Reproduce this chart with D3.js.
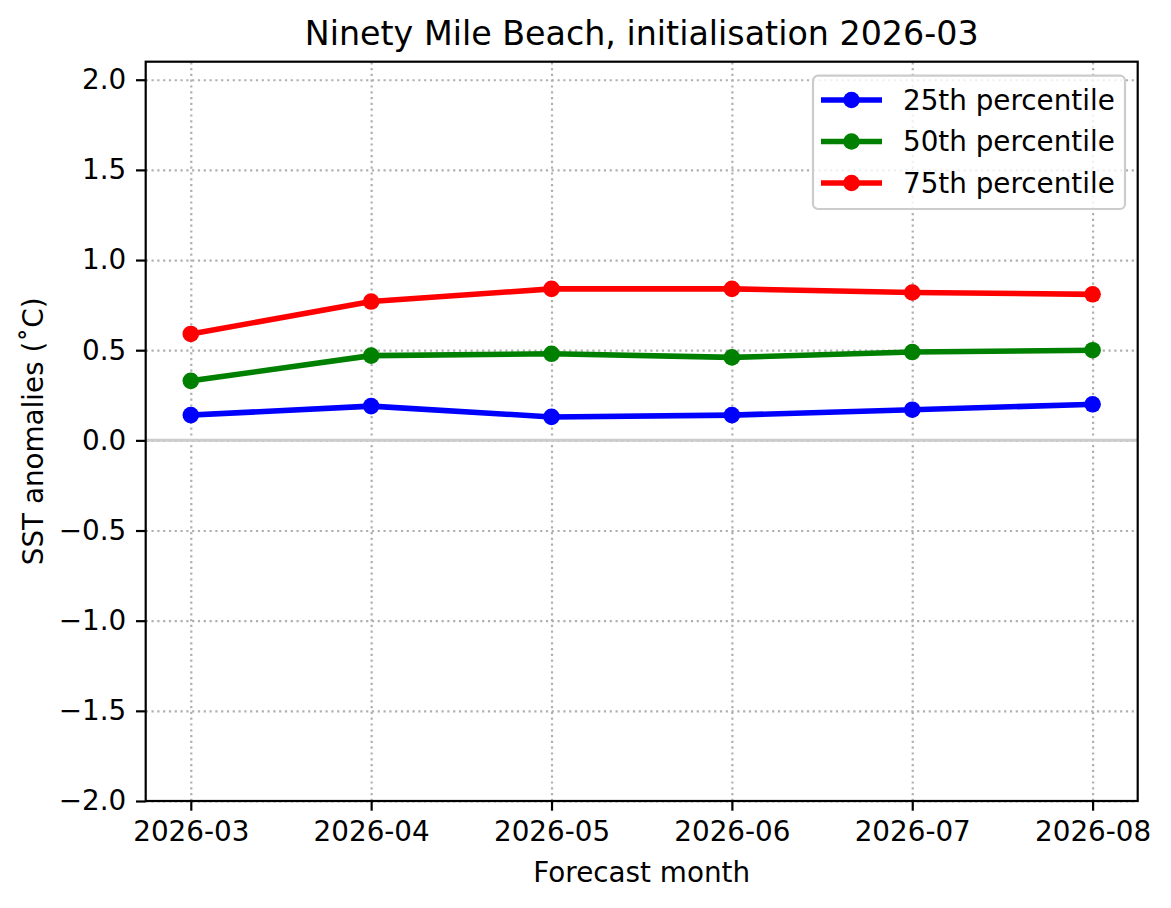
<!DOCTYPE html>
<html>
<head>
    <meta charset="utf-8">
    <title>Ninety Mile Beach SST</title>
    <script src="https://d3js.org/d3.v7.min.js"></script>
    <style>
        body { margin: 0; background: #fff; }
        svg text { font-family: "DejaVu Sans", sans-serif; fill: #000; }
        .grid line { stroke: #b0b0b0; stroke-width: 2.2; stroke-dasharray: 2.2 3.6; }
        .grid .domain { stroke: none; }
        .axis .domain { stroke: none; }
        .axis line { stroke: #000; stroke-width: 2.2; }
    </style>
</head>
<body>
<svg id="chart" width="1171" height="908"></svg>
<script>
    // data
    const months = ["2026-03", "2026-04", "2026-05", "2026-06", "2026-07", "2026-08"];
    const p25 = [0.14, 0.19, 0.13, 0.14, 0.17, 0.20];
    const p50 = [0.33, 0.47, 0.48, 0.46, 0.49, 0.50];
    const p75 = [0.59, 0.77, 0.84, 0.84, 0.82, 0.81];
    const yTicks = [-2.0, -1.5, -1.0, -0.5, 0.0, 0.5, 1.0, 1.5, 2.0];
    const seriesNames = ["25th percentile", "50th percentile", "75th percentile"];
    const seriesColors = ["#0000ff", "#008000", "#ff0000"];

    const series = [p25, p50, p75].map((vals, i) => ({
        name: seriesNames[i], color: seriesColors[i], values: vals
    }));

    const fontSize = "27.8px";
    const svg = d3.select("svg#chart");
    const margin = {top: 61.7, left: 145.7, right: 1171 - 1137.7, bottom: 908 - 801};
    const chartWidth = 1171 - margin.left - margin.right;
    const chartHeight = 908 - margin.top - margin.bottom;

    const xScale = d3.scaleLinear().domain([-0.25, months.length - 0.75]).range([0, chartWidth]);
    const yScale = d3.scaleLinear().domain([-2.0, 2.1]).range([chartHeight, 0]);

    const chart = svg.append("g")
        .attr("transform", "translate(" + margin.left + "," + margin.top + ")");

    // gridlines
    chart.append("g").attr("class", "grid")
        .call(d3.axisLeft(yScale).tickValues(yTicks).tickSize(-chartWidth).tickFormat(""));
    chart.append("g").attr("class", "grid")
        .attr("transform", "translate(0," + chartHeight + ")")
        .call(d3.axisBottom(xScale).tickValues(d3.range(months.length)).tickSize(-chartHeight).tickFormat(""));

    // zero line
    chart.append("line")
        .attr("x1", 0).attr("x2", chartWidth)
        .attr("y1", yScale(0)).attr("y2", yScale(0))
        .attr("stroke", "#cccccc").attr("stroke-width", 3);

    // series
    const line = d3.line().x((d, i) => xScale(i)).y(d => yScale(d));
    series.forEach(s => {
        chart.append("path")
            .attr("d", line(s.values))
            .attr("fill", "none")
            .attr("stroke", s.color)
            .attr("stroke-width", 5.6)
            .attr("stroke-linejoin", "round")
            .attr("stroke-linecap", "square");
        chart.selectAll(null).data(s.values).enter().append("circle")
            .attr("cx", (d, i) => xScale(i))
            .attr("cy", d => yScale(d))
            .attr("r", 8.3)
            .attr("fill", s.color);
    });

    // frame
    chart.append("rect")
        .attr("width", chartWidth).attr("height", chartHeight)
        .attr("fill", "none").attr("stroke", "#000").attr("stroke-width", 2.2);

    // axes
    const leftAxis = d3.axisLeft(yScale).tickValues(yTicks).tickSize(9.7).tickPadding(9.7)
        .tickFormat(d => d3.format(".1f")(d).replace("-", "\u2212"));
    chart.append("g").attr("class", "axis y").call(leftAxis)
        .selectAll("text").style("font-size", fontSize);

    const bottomAxis = d3.axisBottom(xScale).tickValues(d3.range(months.length)).tickSize(9.7).tickPadding(11)
        .tickFormat(i => months[i]);
    chart.append("g").attr("class", "axis x")
        .attr("transform", "translate(0," + chartHeight + ")")
        .call(bottomAxis)
        .selectAll("text").style("font-size", fontSize);

    // title and axis labels
    svg.append("text")
        .attr("x", margin.left + chartWidth / 2).attr("y", 45)
        .attr("text-anchor", "middle").style("font-size", "33.3px")
        .text("Ninety Mile Beach, initialisation 2026-03");
    svg.append("text")
        .attr("x", margin.left + chartWidth / 2).attr("y", 882)
        .attr("text-anchor", "middle").style("font-size", fontSize)
        .text("Forecast month");
    svg.append("text")
        .attr("transform", "translate(43," + (margin.top + chartHeight / 2) + ") rotate(-90)")
        .attr("text-anchor", "middle").style("font-size", fontSize)
        .text("SST anomalies (\u02daC)");

    // legend
    const legend = svg.append("g").attr("transform", "translate(813,75.7)");
    legend.append("rect")
        .attr("width", 312).attr("height", 133.3).attr("rx", 5).attr("ry", 5)
        .attr("fill", "#fff").attr("fill-opacity", 0.8)
        .attr("stroke", "#cccccc").attr("stroke-width", 2.2);
    series.forEach((s, i) => {
        const row = legend.append("g").attr("transform", "translate(0," + (24.3 + i * 41.5) + ")");
        row.append("line").attr("x1", 8).attr("x2", 69)
            .attr("stroke", s.color).attr("stroke-width", 5.6);
        row.append("circle").attr("cx", 38.5).attr("r", 8.3).attr("fill", s.color);
        row.append("text").attr("x", 90).attr("dy", "0.35em")
            .style("font-size", fontSize).text(s.name);
    });
</script>
</body>
</html>
